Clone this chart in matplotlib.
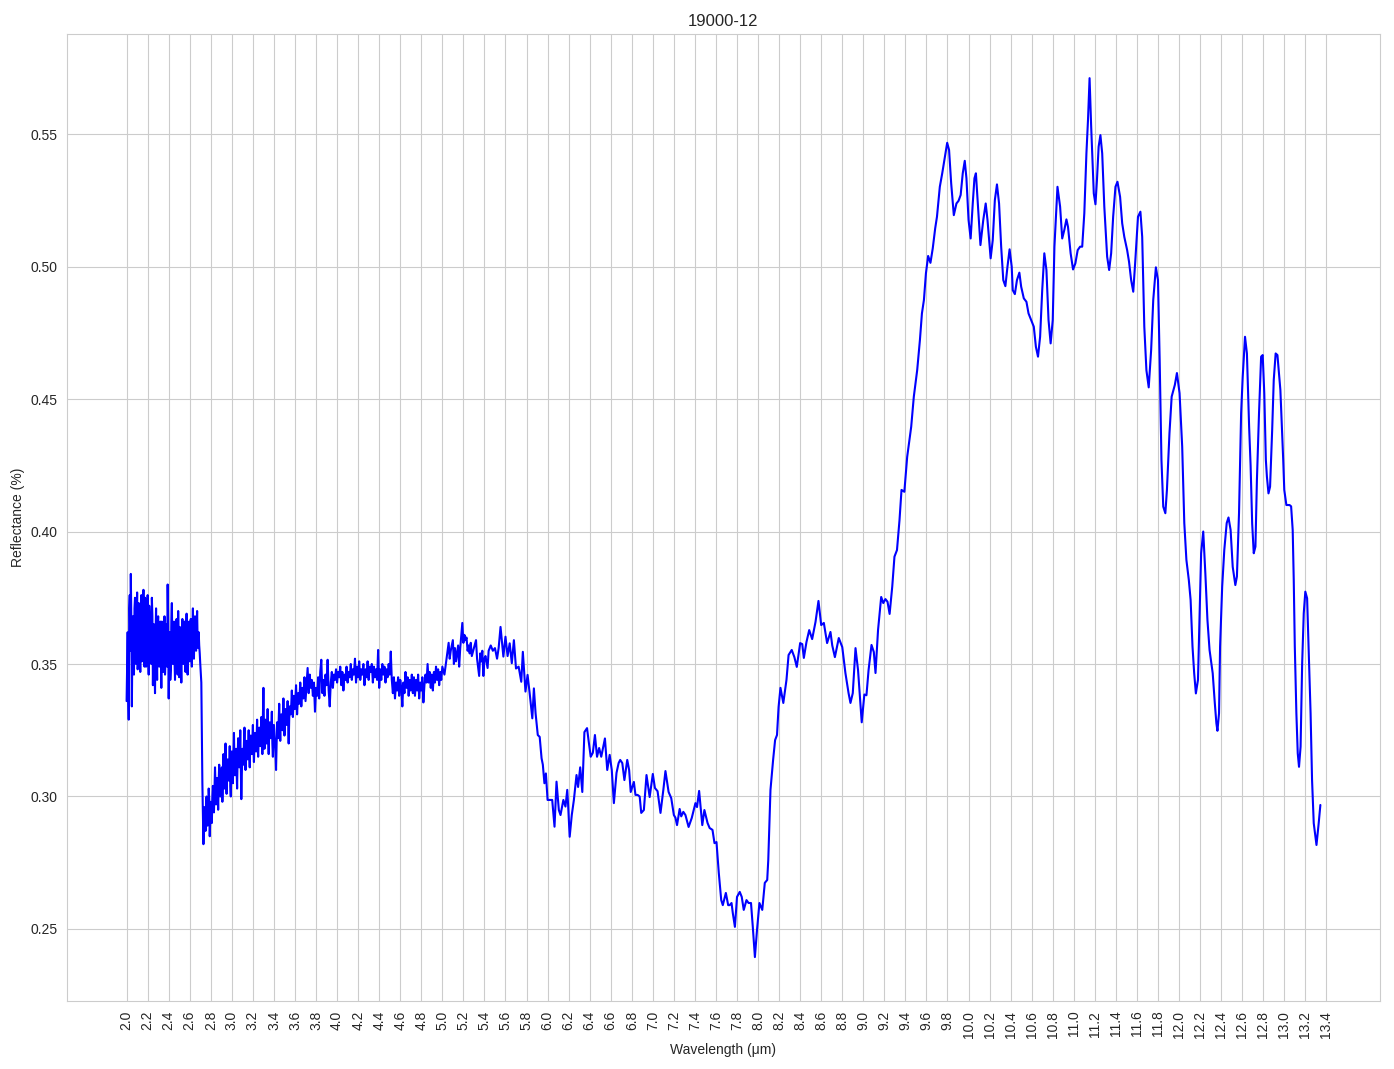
import numpy as np
import matplotlib.pyplot as plt
import seaborn as sns

# noisy part right at the start of the spectrum (2.00 - 2.70 um, 0.01 step)
wl_a = np.round(np.arange(2.00, 2.705, 0.01), 2)
refl_a = [0.336, 0.362, 0.329, 0.376, 0.384, 0.334, 0.368, 0.346, 0.375, 0.350,
          0.377, 0.352, 0.369, 0.347, 0.376, 0.355, 0.378, 0.349, 0.372, 0.358,
          0.376, 0.346, 0.366, 0.352, 0.375, 0.342, 0.365, 0.339, 0.371, 0.344,
          0.368, 0.349, 0.366, 0.341, 0.362, 0.347, 0.368, 0.352, 0.365, 0.380,
          0.337, 0.362, 0.348, 0.373, 0.350, 0.366, 0.344, 0.364, 0.353, 0.370,
          0.345, 0.362, 0.343, 0.367, 0.350, 0.366, 0.347, 0.369, 0.346, 0.364,
          0.351, 0.367, 0.349, 0.371, 0.352, 0.368, 0.355, 0.370, 0.356, 0.357,
          0.350]
# readings between the ones above (2.005 - 2.695 um)
wl_a2 = np.round(np.arange(2.005, 2.70, 0.01), 3)
refl_a2 = [0.348, 0.340, 0.371, 0.355, 0.366, 0.358, 0.352, 0.371, 0.360, 0.366,
           0.348, 0.373, 0.356, 0.368, 0.351, 0.369, 0.357, 0.375, 0.349, 0.366,
           0.355, 0.372, 0.360, 0.350, 0.368, 0.357, 0.348, 0.360, 0.355, 0.365,
           0.354, 0.361, 0.357, 0.366, 0.353, 0.360, 0.346, 0.363, 0.349, 0.366,
           0.355, 0.344, 0.366, 0.356, 0.361, 0.352, 0.358, 0.367, 0.346, 0.358,
           0.364, 0.352, 0.358, 0.355, 0.364, 0.353, 0.360, 0.352, 0.357, 0.366,
           0.358, 0.354, 0.362, 0.358, 0.366, 0.360, 0.362, 0.358, 0.362, 0.354]

# drop and noisy rise (2.71 - 3.60 um)
wl_b = np.round(np.arange(2.71, 3.605, 0.01), 2)
refl_b = [0.343, 0.305, 0.282, 0.296, 0.287, 0.300, 0.289, 0.303, 0.285, 0.298,
          0.290, 0.304, 0.294, 0.311, 0.297, 0.307, 0.295, 0.312, 0.300, 0.309,
          0.298, 0.316, 0.303, 0.320, 0.301, 0.314, 0.306, 0.319, 0.300, 0.317,
          0.305, 0.324, 0.308, 0.318, 0.303, 0.322, 0.311, 0.325, 0.299, 0.318,
          0.312, 0.326, 0.310, 0.321, 0.314, 0.325, 0.311, 0.323, 0.316, 0.327,
          0.313, 0.324, 0.317, 0.329, 0.315, 0.326, 0.319, 0.330, 0.316, 0.341,
          0.318, 0.329, 0.320, 0.333, 0.316, 0.328, 0.322, 0.332, 0.315, 0.327,
          0.320, 0.310, 0.328, 0.322, 0.335, 0.321, 0.331, 0.325, 0.337, 0.323,
          0.333, 0.327, 0.336, 0.320, 0.334, 0.331, 0.340, 0.330, 0.338, 0.333]
# readings between the ones above (2.735 - 3.595 um)
wl_b2 = np.round(np.arange(2.735, 3.60, 0.01), 3)
refl_b2 = [0.290, 0.293, 0.297, 0.292, 0.295, 0.299, 0.291, 0.294, 0.300, 0.298,
           0.302, 0.304, 0.300, 0.303, 0.306, 0.304, 0.305, 0.311, 0.306, 0.309,
           0.312, 0.308, 0.310, 0.313, 0.309, 0.304, 0.310, 0.313, 0.316, 0.312,
           0.314, 0.310, 0.315, 0.318, 0.316, 0.313, 0.309, 0.316, 0.320, 0.317,
           0.315, 0.319, 0.318, 0.316, 0.320, 0.319, 0.322, 0.318, 0.320, 0.322,
           0.321, 0.319, 0.322, 0.324, 0.321, 0.325, 0.330, 0.327, 0.322, 0.326,
           0.324, 0.323, 0.325, 0.327, 0.325, 0.320, 0.324, 0.323, 0.316, 0.320,
           0.326, 0.328, 0.327, 0.329, 0.328, 0.331, 0.330, 0.328, 0.331, 0.330,
           0.328, 0.329, 0.333, 0.335, 0.334, 0.335, 0.336]

# plateau (3.61 - 5.00 um)
wl_c = np.round(np.arange(3.61, 5.005, 0.01), 2)
refl_c = [0.342, 0.331, 0.339, 0.335, 0.343, 0.334, 0.341, 0.337, 0.345, 0.336,
          0.342, 0.3485, 0.339, 0.346, 0.341, 0.344, 0.338, 0.343, 0.332, 0.341,
          0.338, 0.345, 0.337, 0.347, 0.3516, 0.339, 0.344, 0.338, 0.346, 0.342,
          0.3516, 0.340, 0.334, 0.343, 0.347, 0.341, 0.346, 0.344, 0.348, 0.343,
          0.347, 0.345, 0.349, 0.342, 0.347, 0.340, 0.346, 0.344, 0.349, 0.343,
          0.347, 0.345, 0.350, 0.344, 0.348, 0.346, 0.352, 0.343, 0.349, 0.345,
          0.351, 0.344, 0.348, 0.346, 0.350, 0.342, 0.348, 0.345, 0.351, 0.344,
          0.349, 0.347, 0.350, 0.343, 0.349, 0.345, 0.348, 0.344, 0.3553, 0.341,
          0.348, 0.344, 0.350, 0.346, 0.349, 0.343, 0.348, 0.345, 0.350, 0.346,
          0.3547, 0.344, 0.339, 0.345, 0.337, 0.343, 0.340, 0.345, 0.338, 0.344,
          0.341, 0.334, 0.343, 0.339, 0.347, 0.341, 0.345, 0.338, 0.344, 0.340,
          0.346, 0.339, 0.345, 0.338, 0.344, 0.340, 0.346, 0.337, 0.343, 0.340,
          0.345, 0.3355, 0.342, 0.346, 0.343, 0.350, 0.343, 0.347, 0.341, 0.346,
          0.340, 0.347, 0.343, 0.349, 0.344, 0.348, 0.342, 0.347, 0.344, 0.349]

# 5.0 - 8.2 um
spec_d = [(5.02, 0.346), (5.04, 0.352), (5.06, 0.358), (5.07, 0.352), (5.08, 0.355),
          (5.10, 0.359), (5.11, 0.350), (5.12, 0.356), (5.13, 0.351), (5.15, 0.357),
          (5.16, 0.349), (5.17, 0.356), (5.19, 0.3655), (5.20, 0.358), (5.21, 0.361),
          (5.22, 0.359), (5.23, 0.360), (5.24, 0.355), (5.25, 0.357), (5.26, 0.354),
          (5.27, 0.358), (5.28, 0.353), (5.30, 0.356), (5.32, 0.359), (5.33, 0.352),
          (5.35, 0.3455), (5.36, 0.354), (5.37, 0.351), (5.38, 0.355), (5.39, 0.3455),
          (5.40, 0.352), (5.41, 0.353), (5.43, 0.3485), (5.44, 0.355), (5.46, 0.357),
          (5.48, 0.355), (5.50, 0.356), (5.52, 0.352), (5.535, 0.356), (5.553, 0.364),
          (5.58, 0.3528), (5.60, 0.3603), (5.62, 0.353), (5.64, 0.3578), (5.66, 0.3503),
          (5.68, 0.359), (5.70, 0.3483), (5.725, 0.349), (5.75, 0.3433), (5.765, 0.3546),
          (5.79, 0.3396), (5.81, 0.3459), (5.83, 0.3389), (5.855, 0.3295), (5.87, 0.3408),
          (5.886, 0.3314), (5.907, 0.3232), (5.925, 0.3225), (5.943, 0.3144), (5.955, 0.312),
          (5.97, 0.305), (5.984, 0.3087), (6.0, 0.2987), (6.02, 0.2987), (6.044, 0.2987),
          (6.066, 0.2886), (6.085, 0.3056), (6.107, 0.2949), (6.123, 0.293), (6.15, 0.2987),
          (6.17, 0.2962), (6.187, 0.3025), (6.195, 0.297), (6.21, 0.2848), (6.23, 0.293),
          (6.25, 0.2987), (6.275, 0.3081), (6.29, 0.3036), (6.31, 0.311), (6.33, 0.3017),
          (6.35, 0.3243), (6.375, 0.3258), (6.39, 0.321), (6.41, 0.315), (6.43, 0.3165),
          (6.45, 0.3232), (6.47, 0.315), (6.49, 0.3183), (6.51, 0.315), (6.545, 0.3219),
          (6.567, 0.31), (6.59, 0.3157), (6.61, 0.31), (6.63, 0.2975), (6.655, 0.3089),
          (6.675, 0.3126), (6.69, 0.3138), (6.71, 0.3126), (6.73, 0.3062), (6.757, 0.3138),
          (6.775, 0.310), (6.79, 0.3017), (6.82, 0.3055), (6.835, 0.3006), (6.855, 0.3006),
          (6.875, 0.300), (6.89, 0.2938), (6.915, 0.2949), (6.925, 0.300), (6.94, 0.3081),
          (6.97, 0.2998), (7.0, 0.3085), (7.02, 0.3032), (7.045, 0.302), (7.073, 0.2938),
          (7.10, 0.3025), (7.12, 0.3096), (7.15, 0.3017), (7.175, 0.2994), (7.20, 0.293),
          (7.215, 0.292), (7.23, 0.2892), (7.255, 0.2953), (7.27, 0.2925), (7.29, 0.2942),
          (7.31, 0.293), (7.34, 0.2885), (7.37, 0.2919), (7.405, 0.2975), (7.42, 0.296),
          (7.44, 0.3021), (7.47, 0.2892), (7.49, 0.2949), (7.52, 0.29), (7.54, 0.2881),
          (7.567, 0.2874), (7.586, 0.2824), (7.605, 0.2828), (7.627, 0.2711), (7.65, 0.2609),
          (7.665, 0.259), (7.694, 0.2636), (7.716, 0.259), (7.73, 0.259), (7.748, 0.2598),
          (7.76, 0.256), (7.78, 0.2508), (7.80, 0.2621), (7.826, 0.264), (7.845, 0.2621),
          (7.864, 0.2572), (7.89, 0.2609), (7.91, 0.2598), (7.933, 0.2598), (7.95, 0.2508),
          (7.97, 0.2394), (7.99, 0.2496), (8.013, 0.2598), (8.04, 0.2572), (8.064, 0.2674),
          (8.087, 0.2685), (8.097, 0.276), (8.118, 0.3025), (8.143, 0.3138), (8.162, 0.3213),
          (8.18, 0.3232), (8.195, 0.3338)]

# 8.2 - end
spec_e = [(8.213, 0.341), (8.24, 0.3353), (8.27, 0.344), (8.29, 0.3534), (8.32, 0.3553),
          (8.345, 0.3526), (8.368, 0.3489), (8.40, 0.3579), (8.42, 0.3575), (8.435, 0.3523),
          (8.46, 0.3583), (8.486, 0.3628), (8.514, 0.3594), (8.546, 0.3659), (8.574, 0.3738),
          (8.60, 0.3647), (8.625, 0.3655), (8.656, 0.3579), (8.688, 0.3621), (8.705, 0.357),
          (8.73, 0.3526), (8.767, 0.3598), (8.80, 0.3564), (8.83, 0.3466), (8.86, 0.339),
          (8.878, 0.3353), (8.90, 0.339), (8.926, 0.356), (8.95, 0.3477), (8.985, 0.328),
          (9.01, 0.3385), (9.03, 0.3382), (9.05, 0.3477), (9.078, 0.3572), (9.10, 0.3545),
          (9.116, 0.3466), (9.14, 0.3628), (9.17, 0.3753), (9.19, 0.373), (9.21, 0.3745),
          (9.23, 0.3735), (9.25, 0.3689), (9.275, 0.3792), (9.296, 0.3905), (9.32, 0.393),
          (9.344, 0.4043), (9.363, 0.4157), (9.39, 0.415), (9.417, 0.4282), (9.455, 0.4395),
          (9.48, 0.4509), (9.512, 0.4609), (9.538, 0.4723), (9.557, 0.4823), (9.576, 0.4874),
          (9.595, 0.4974), (9.616, 0.504), (9.638, 0.5014), (9.66, 0.5069), (9.683, 0.5144),
          (9.70, 0.5188), (9.727, 0.5301), (9.75, 0.5352), (9.77, 0.5402), (9.797, 0.5467),
          (9.815, 0.544), (9.835, 0.5314), (9.86, 0.5194), (9.885, 0.5238), (9.905, 0.5248),
          (9.925, 0.527), (9.945, 0.5352), (9.964, 0.5399), (9.98, 0.5333), (10.0, 0.5176),
          (10.02, 0.5106), (10.04, 0.5238), (10.056, 0.5333), (10.07, 0.5352), (10.09, 0.5226),
          (10.113, 0.5081), (10.14, 0.5176), (10.163, 0.5238), (10.18, 0.5176), (10.21, 0.5031),
          (10.23, 0.51), (10.25, 0.5251), (10.27, 0.531), (10.29, 0.5238), (10.31, 0.5075),
          (10.33, 0.4949), (10.35, 0.4926), (10.37, 0.50), (10.39, 0.5065), (10.41, 0.50),
          (10.42, 0.4911), (10.44, 0.4896), (10.46, 0.4949), (10.483, 0.4977), (10.50, 0.4924),
          (10.525, 0.488), (10.55, 0.4867), (10.57, 0.4823), (10.595, 0.4798), (10.62, 0.4773),
          (10.64, 0.4697), (10.66, 0.466), (10.68, 0.4735), (10.70, 0.4911), (10.72, 0.505),
          (10.74, 0.4987), (10.76, 0.4798), (10.78, 0.471), (10.80, 0.4798), (10.816, 0.5075),
          (10.845, 0.5301), (10.87, 0.5226), (10.89, 0.5106), (10.91, 0.5138), (10.93, 0.5178),
          (10.945, 0.515), (10.97, 0.505), (10.993, 0.4989), (11.015, 0.5012), (11.037, 0.5062),
          (11.06, 0.5075), (11.08, 0.5075), (11.10, 0.5201), (11.12, 0.5427), (11.135, 0.5553),
          (11.15, 0.5711), (11.165, 0.553), (11.19, 0.5276), (11.206, 0.5235), (11.22, 0.5326),
          (11.236, 0.5452), (11.253, 0.5496), (11.27, 0.5427), (11.29, 0.5226), (11.317, 0.5037),
          (11.336, 0.4987), (11.355, 0.505), (11.374, 0.5188), (11.396, 0.5301), (11.415, 0.532),
          (11.44, 0.5263), (11.46, 0.5163), (11.48, 0.5112), (11.507, 0.5062), (11.525, 0.5018),
          (11.545, 0.4949), (11.565, 0.4905), (11.585, 0.5025), (11.61, 0.5188), (11.633, 0.5207),
          (11.65, 0.5112), (11.67, 0.4773), (11.69, 0.4609), (11.712, 0.4544), (11.735, 0.4685),
          (11.755, 0.4874), (11.78, 0.4997), (11.80, 0.4949), (11.816, 0.4647), (11.833, 0.427),
          (11.85, 0.4094), (11.87, 0.4069), (11.885, 0.4157), (11.909, 0.437), (11.93, 0.4509),
          (11.96, 0.4553), (11.98, 0.4598), (12.005, 0.4522), (12.03, 0.4321), (12.05, 0.4032),
          (12.07, 0.3893), (12.093, 0.3817), (12.11, 0.3742), (12.128, 0.3566), (12.144, 0.3465),
          (12.16, 0.3389), (12.18, 0.344), (12.196, 0.3691), (12.21, 0.3918), (12.23, 0.40),
          (12.25, 0.3842), (12.27, 0.3666), (12.29, 0.3553), (12.32, 0.3465), (12.34, 0.3352),
          (12.355, 0.3276), (12.365, 0.3248), (12.38, 0.3314), (12.39, 0.3566), (12.41, 0.3792),
          (12.43, 0.393), (12.453, 0.4032), (12.47, 0.4053), (12.49, 0.4006), (12.51, 0.3867),
          (12.535, 0.3798), (12.55, 0.383), (12.57, 0.4069), (12.59, 0.4446), (12.605, 0.4584),
          (12.627, 0.4735), (12.645, 0.4672), (12.666, 0.4395), (12.68, 0.425), (12.695, 0.403),
          (12.71, 0.3918), (12.726, 0.3943), (12.74, 0.4194), (12.76, 0.4446), (12.78, 0.466),
          (12.795, 0.4666), (12.81, 0.4522), (12.825, 0.427), (12.835, 0.4207), (12.85, 0.4144),
          (12.865, 0.4169), (12.885, 0.4383), (12.90, 0.4572), (12.918, 0.4672), (12.935, 0.4666),
          (12.963, 0.4534), (12.99, 0.427), (13.0, 0.4157), (13.02, 0.41), (13.05, 0.41),
          (13.065, 0.4095), (13.08, 0.4006), (13.09, 0.3817), (13.10, 0.3566), (13.115, 0.3314),
          (13.128, 0.3163), (13.14, 0.3112), (13.155, 0.3188), (13.17, 0.3503), (13.185, 0.3691),
          (13.20, 0.3773), (13.217, 0.3748), (13.236, 0.3503), (13.25, 0.3314), (13.264, 0.3062),
          (13.28, 0.2899), (13.306, 0.2817), (13.327, 0.2899), (13.343, 0.2968)]

wl_d, refl_d = zip(*spec_d)
wl_e, refl_e = zip(*spec_e)

wavelength = np.concatenate([wl_a, wl_a2, wl_b, wl_b2, wl_c, wl_d, wl_e])
reflectance = np.concatenate([refl_a, refl_a2, refl_b, refl_b2, refl_c, refl_d, refl_e])
order = np.argsort(wavelength, kind='stable')
wavelength = wavelength[order]
reflectance = reflectance[order]

xticks = np.round(np.arange(2.0, 13.45, 0.2), 1)

sns.set_style('whitegrid')
plt.rcParams['font.family'] = ['Liberation Sans', 'DejaVu Sans']
fig, ax = plt.subplots(figsize=(13.94, 10.69), dpi=100)
ax.plot(wavelength, reflectance, color='blue', linewidth=1.5)
ax.set_xticks(xticks)
ax.set_xticklabels(['%.1f' % t for t in xticks], rotation=90)
ax.set(xlabel='Wavelength (μm)', ylabel='Reflectance (%)', title='19000-12')
fig.subplots_adjust(left=0.048, right=0.990, top=0.968, bottom=0.0636)
fig.savefig('out.png')
